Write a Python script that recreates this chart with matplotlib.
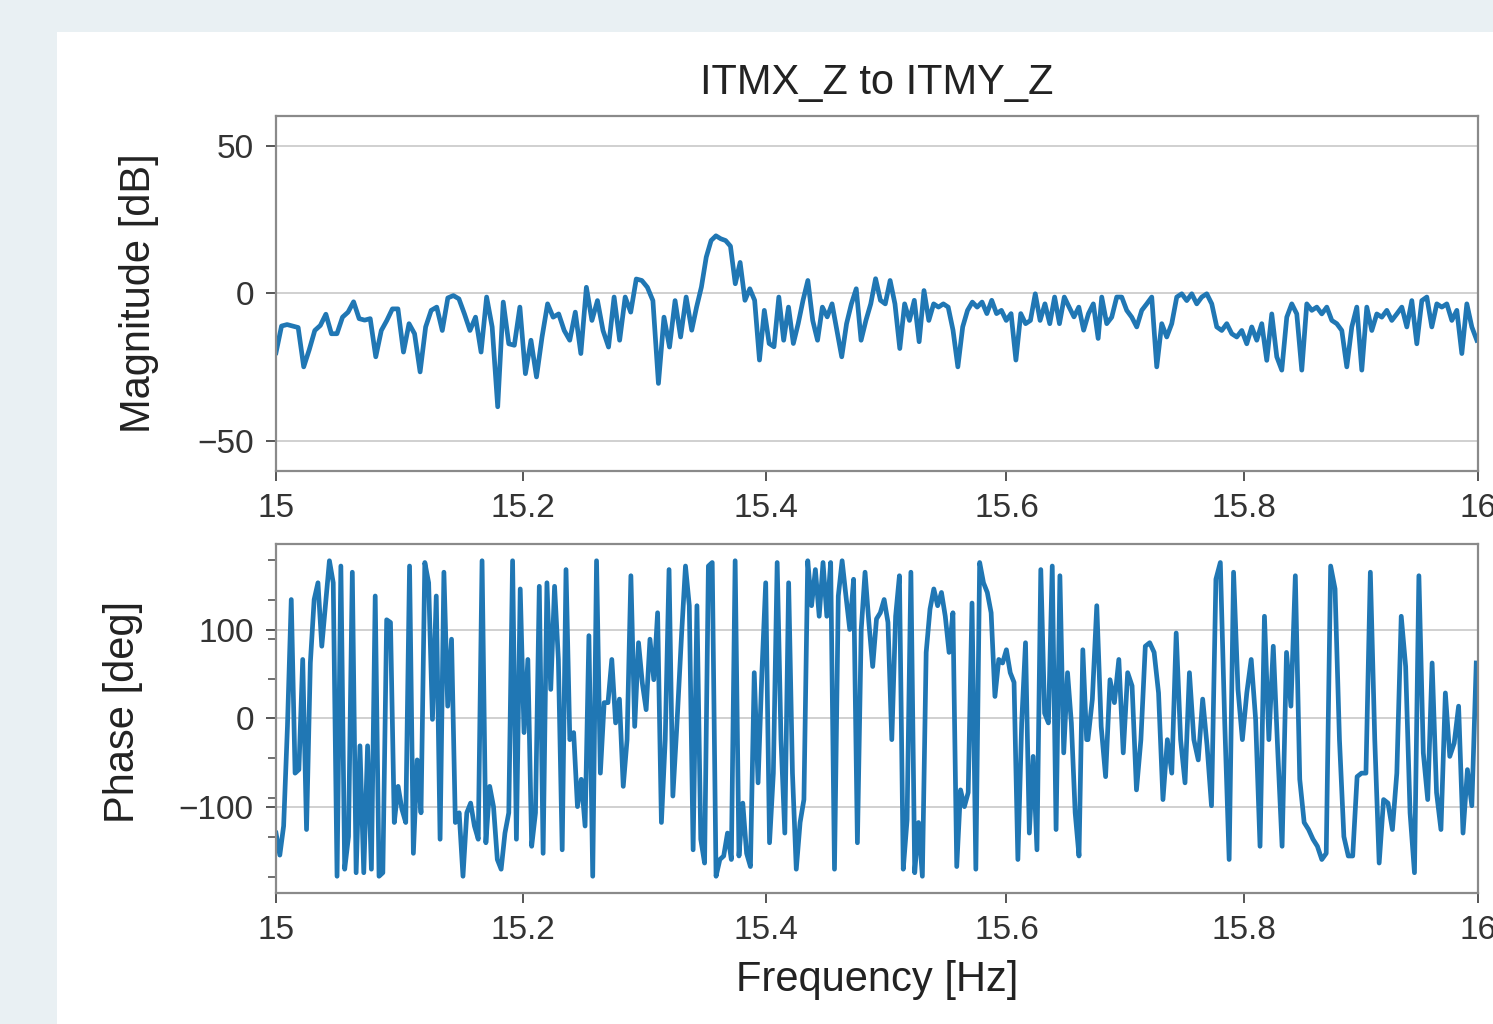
import numpy as np
import matplotlib.pyplot as plt
from matplotlib.patches import Rectangle
from matplotlib.ticker import MultipleLocator, NullLocator

plt.rcParams['font.family'] = ['Liberation Sans', 'DejaVu Sans']

# magnitude [dB] in three pieces (start/stop frequency each)
mag_a_f = (15.0, 15.334)
mag_a = [-20, -11, -10.5, -11, -11.5, -24.8, -19, -12.5, -10.8, -7, -13.6, -13.6, -8, -6.3,
         -2.8, -8.5, -9, -8.5, -21.4, -12.5, -9.1, -5.2, -5.2, -19.8, -10.2, -13.6, -26.5,
         -11.3, -5.7, -4.6, -12.5, -1.5, -0.7, -1.8, -6.9, -12.5, -8, -19.8, -1.2, -11.3,
         -38.3, -2.9, -17, -17.5, -4.6, -27.1, -15.8, -28.2, -14.7, -3.5, -8, -6.9, -12.5,
         -15.8, -6.3, -20.3, 2.1, -9.1, -2.4, -12.5, -18.1, -1.2, -15.8, -1.2, -6.3, 4.9,
         4.4, 2.1, -2.4, -30.4, -8, -18.1, -2.4, -14.7, -1.2]
mag_b_f = (15.3386, 15.677)
mag_b = [-12.4, -4.6, 2.2, 12.3, 17.9, 19.5, 18.5, 17.9, 16, 3.3, 10.5, -2.3, 1.6, -2.3,
         -22.5, -5.7, -16.9, -18, -1.2, -15.8, -4.6, -16.9, -10.2, -2.3, 4.4, -9.1, -15.8,
         -4.6, -7.9, -3.5, -12.4, -21.4, -10.2, -3.5, 1.6, -15.8, -9.1, -3.5, 5, -2.3, -3.5,
         4.4, -3.5, -18.6, -3.5, -9.1, -2.3, -16.3, 1, -9.1, -3.5, -4.6, -3.5, -4.6, -12.4,
         -24.8, -11.3, -5.7, -2.9, -4.6, -2.9, -6.8, -2.3, -6.8, -5.7, -9.1, -6.8, -22.5,
         -6.8, -10.2, -9.1, -0.1, -9.1, -3.5, -10.2, -1.2, -10.2, -1.2, -4.6, -7.9, -4.6,
         -12.4, -6.8, -3.5, -15.2]
mag_c_f = (15.680, 15.999)
mag_c = [-1.2, -10.2, -8, -1.2, -1.2, -5.7, -8, -11.3, -5.7, -3.5, -1.2, -24.8, -10.2, -14.7,
         -10.2, -1.2, -0.1, -2.4, -0.1, -3.5, -1.2, -0.1, -3.5, -11.3, -12.5, -10.2, -13.6,
         -14.7, -12.5, -17, -11.3, -15.8, -10.2, -22.6, -6.9, -21.4, -25.9, -8, -3.5, -6.9,
         -25.9, -3.5, -5.7, -4.6, -6.9, -4.6, -9.1, -10.2, -12.5, -24.8, -11.3, -4.6, -25.9,
         -4.6, -12.5, -6.9, -8, -5.7, -9.1, -6.9, -4.6, -11.3, -2.4, -17, -2.4, -1.2, -11.3,
         -3.5, -4.6, -3.5, -9.1, -5.7, -20.3, -3.5, -11.3, -15.8]

# phase [deg], same idea
ph_a_f = (15.0, 15.3262)
ph_a = [-130, -155, -122, -9, 135, -62, -58, 67, -126, 63, 135, 154, 82, 131, 179, 154, -179,
        173, -171, -134, 166, -175, -31, -175, -31, -171, 139, -179, -175, 112, 109, -118,
        -77, -103, -118, 173, -153, -47, -107, 177, 154, -1, 139, -137, 166, 14, 90, -118,
        -107, -179, -107, -96, -122, -137, 179, -141, -77, -100, -160, -171, -130, -107, 179,
        -137, 147, -16, 67, -145, -107, 150, -153, 154, 33, 150, 67, -149, 169, -24, -16,
        -100, -69, -122, 94, -179, 179, -62, 18, 18, 67, -5, 22, -77, -24, 162, -9, 86, 40,
        10, 90, 44, 120, -118, -24, 169, -88, -12]
ph_b_f = (15.3303, 15.6673)
ph_b = [97, 173, 128, -149, 128, -137, -164, 173, 177, -179, -160, -156, -130, -160, 179, -156,
        -96, -153, -168, 52, -73, 52, 154, -141, -62, 177, -24, -130, 154, -62, -171, -118,
        -92, 179, 128, 169, 116, 177, 116, 177, -171, 139, 179, 139, 101, 158, -141, 101, 166,
        109, 59, 113, 120, 135, 109, -24, 116, 162, -171, -115, 166, -175, -118, -179, 75,
        124, 147, 128, 143, 116, 75, 120, -168, -81, -100, -84, 131, -171, 177, 154, 143,
        120, 25, 67, 63, 78, 52, 41, -160, -5, 86, -130, -43, -149, 169, 6, -5, 173, -126,
        162, -39, 52, -5, -107, -156, 78, -24]
ph_c_f = (15.6684, 15.9985)
ph_c = [-24, 22, 128, -9, -66, 44, 18, 67, -39, 52, 37, -81, -24, 82, 86, 75, 29, -92, -24,
        -62, 97, -24, -73, 52, -24, -47, 22, -31, -99, 158, 177, -5, -160, 166, 33, -24, 29,
        67, -1, -145, 116, -24, 82, -35, -145, 75, 14, 162, -69, -118, -126, -137, -145, -160,
        -153, 173, 147, -24, -134, -156, -156, -66, -62, -62, 166, -24, -164, -92, -96, -126,
        -62, 116, 59, -107, -175, 162, -39, -92, 63, -84, -126, 29, -43, -28, 14, -130, -58,
        -99, 63]

xticks = [15, 15.2, 15.4, 15.6, 15.8, 16]
xtick_labels = ['15', '15.2', '15.4', '15.6', '15.8', '16']


def join(*parts):
    f = np.concatenate([np.geomspace(p[0][0], p[0][1], len(p[1])) for p in parts])
    v = np.concatenate([np.asarray(p[1], float) for p in parts])
    return f, v


f_mag, mag = join((mag_a_f, mag_a), (mag_b_f, mag_b), (mag_c_f, mag_c))
f_ph, ph = join((ph_a_f, ph_a), (ph_b_f, ph_b), (ph_c_f, ph_c))

fig = plt.figure(figsize=(14.93, 10.24), dpi=100)
fig.patch.set_facecolor('#e9f0f3')
fig.add_artist(Rectangle((57 / 1493, 0), 1, 1 - 32 / 1024, transform=fig.transFigure,
                         facecolor='white', edgecolor='none', zorder=-5))

ax1 = fig.add_axes([0.18486, 0.54004, 0.80509, 0.34668])
ax2 = fig.add_axes([0.18486, 0.12793, 0.80509, 0.34082])

line_color = '#2077b4'
ax1.plot(f_mag, mag, color=line_color, lw=3.4)
ax2.plot(f_ph, ph, color=line_color, lw=3.4)

ax1.set_ylim(-60, 60)
ax1.yaxis.set_major_locator(MultipleLocator(50))
ax2.set_ylim(-198, 198)
ax2.yaxis.set_major_locator(MultipleLocator(100))
ax2.yaxis.set_minor_locator(MultipleLocator(45))

for ax in (ax1, ax2):
    ax.set_xscale('log')
    ax.set_xlim(15, 16)
    ax.set_xticks(xticks, labels=xtick_labels)
    ax.xaxis.set_minor_locator(NullLocator())
    ax.grid(axis='y', color='#d0d0d0', lw=1.4)
    ax.set_axisbelow(True)
    for sp in ax.spines.values():
        sp.set_color('#8a8a8a')
        sp.set_linewidth(1.6)
    ax.tick_params(which='major', direction='out', length=7, width=1.4, color='#555555',
                   labelsize=24, labelcolor='#333333', pad=9)
    ax.tick_params(which='minor', direction='out', length=6, width=1.2, color='#555555')

ax1.set_title('ITMX_Z to ITMY_Z', fontsize=30, pad=16, color='#222222')
ax1.set_ylabel('Magnitude [dB]', fontsize=30, color='#222222')
ax1.yaxis.set_label_coords(-0.097, 0.5)
ax2.set_ylabel('Phase [deg]', fontsize=30, color='#222222')
ax2.yaxis.set_label_coords(-0.111, 0.52)
ax2.set_xlabel('Frequency [Hz]', fontsize=30, color='#222222', labelpad=10)

fig.savefig('out.png', dpi=100, facecolor=fig.get_facecolor())
